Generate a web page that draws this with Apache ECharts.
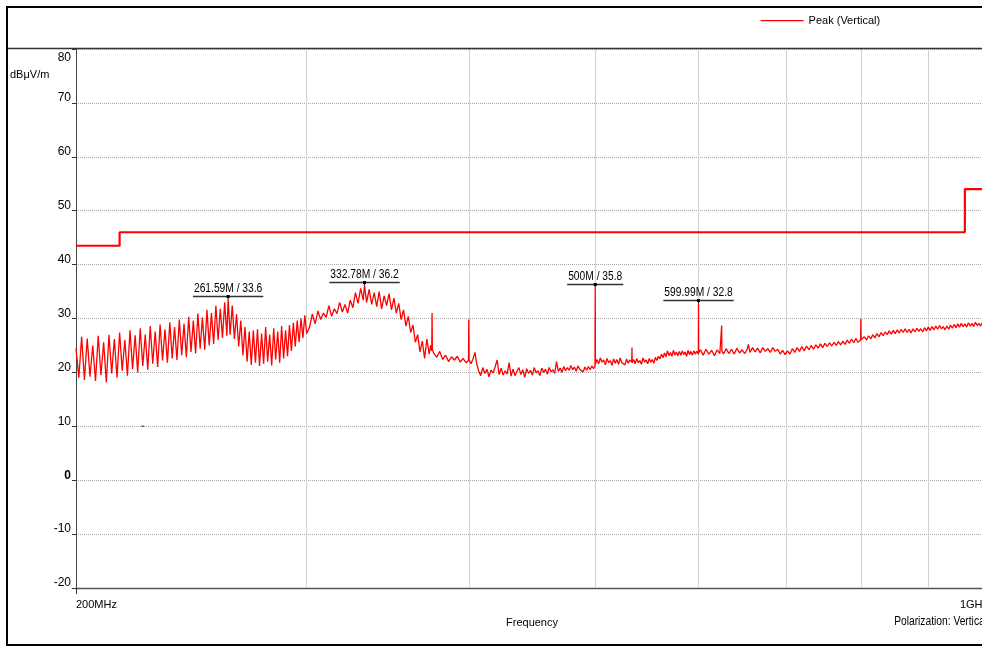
<!DOCTYPE html>
<html><head><meta charset="utf-8">
<script src="https://cdn.jsdelivr.net/npm/echarts@6/dist/echarts.min.js"></script>
<style>html,body{margin:0;padding:0;overflow:hidden;background:#fff;width:982px;height:646px}#c{width:1000px;height:646px}</style>
</head><body><div id="c"></div><script>
// ---- data (frequency in MHz, level in dBµV/m) ----
const traceA = [
[200,24.5],[201,19.0],[202,26.6],[203,18.6],[204,26.3],[205,19.2],[206,25.0],[207,18.4],[208,26.8],[209,19.5],
[210,25.6],[211,18.2],[212,27.0],[213,19.8],[214,26.2],[215,19.0],[216,27.4],[217,20.3],[218,26.0],[219,19.4],
[220,27.8],[221,20.6],[222,26.9],[223,20.0],[224,28.2],[225,21.2],[226,27.0],[227,20.5],[228,28.6],[229,21.6],
[230,27.6],[231,21.0],[232,28.9],[233,22.2],[234,28.0],[235,21.8],[236,29.3],[237,22.6],[238,28.4],[239,22.3],
[240,29.8],[241,23.2],[242,29.0],[243,22.8],[244,30.3],[245,23.8],[246,29.6],[247,23.5],[248,30.9],[249,24.4],
[250,30.2],[251,24.2],[252,31.6],[253,25.0],[254,31.0],[255,25.3],[256,32.4],[257,26.0],[258,31.8],[259,26.4],
[260,33.0],[261,26.8],[261.59,33.6],[262.5,27.0],[263.5,32.4],[264.5,26.2],[265.5,30.8],[266.5,24.8],[267.5,29.6],[268.5,23.2],
[269.5,28.4],[270.5,22.0],[271.5,27.6],[272.5,21.4],[273.5,27.8],[274.5,21.8],[275.5,28.0],[276.5,21.2],[277.5,27.2],[278.5,21.6],
[279.5,28.4],[280.5,22.0],[281.5,27.0],[282.5,21.3],[283.5,28.2],[284.5,22.4],[285.5,27.6],[286.5,21.8],[287.5,28.6],[288.5,22.6],
[289.5,27.8],[290.5,23.0],[291.5,28.8],[292.5,24.0],[293.5,29.2],[294.5,24.8],[295.5,29.6],[296.5,25.6],[297.5,30.0],[298.5,26.4],
[299.5,30.6],[300.5,27.2]
];
const traceB = [
[302.0,28.4],[303.5,30.8],[305.0,29.0],[306.5,31.4],[308.0,29.8],[309.5,31.0],[311.0,30.2],[312.5,32.4],[314.0,30.4],[315.5,31.8],
[317.0,30.9],[318.5,33.0],[320.0,31.2],[321.5,32.6],[323.0,31.0],[324.5,33.4],[326.0,32.0],[327.5,34.8],[329.0,32.8],[330.5,35.6],
[332.0,33.4],[332.78,36.2],[334.0,33.0],[335.5,35.4],[337.0,32.6],[338.5,34.8],[340.0,32.2],[341.5,35.0],[343.0,31.8],[344.5,34.2],
[346.0,32.4],[347.5,34.6],[349.0,31.6],[350.5,33.8],[352.0,31.0],[353.5,32.8],[355.0,29.8],[356.5,31.6],[358.0,28.6],[359.5,30.4],
[361.0,27.4],[362.5,28.8],[364.0,25.6],[365.5,27.0],[367.0,23.8],[368.5,25.8],[370.0,22.6],[371.5,26.2],[373.0,23.4],[374.0,25.0],
[374.7,24.0],[374.9,31.0],[375.1,24.2]
];
const traceC = [
[376,23.6],[378,22.8],[380,23.9],[382,22.4],[384,23.2],[386,22.0],[388,22.9],[390,22.3],[392,23.0],[394,21.9],
[396,22.6],[398,21.8],[399.8,22.2],[400,29.8],[400.2,22.4],[401.5,21.6],[403,22.5],[404.4,23.7],[405.5,21.8],[407,20.3],
[408.5,19.4],[410,20.9],[411.5,19.8],[413,20.6],[414.5,19.2],[416,20.4],[417.5,19.9],[419,21.0],[420.5,22.3],[422,19.6],
[423.5,20.8],[425,19.5],[426.5,20.3],[428,19.7],[429.5,21.8],[431,19.3],[432.5,20.6],[434,19.4],[435.5,20.2],[437,20.9],
[438.5,19.6],[440,20.5],[441.5,19.1],[443,20.7],[444.5,19.8],[446,20.4],[447.5,19.5],[449,20.9],[450.5,19.9],[452,20.3],
[453.5,19.4],[455,20.8],[456.5,20.0],[458,20.6],[459.5,19.7],[461,20.9],[462.5,20.1],[464,20.5],[465.5,19.8],[467,22.0],
[468.5,20.2],[470,20.8],[471.5,20.0],[473,21.1],[474.5,20.3],[476,20.9],[477.5,20.4],[479,21.3],[480.5,20.5],[482,21.0],
[483.5,20.2],[485,21.2],[486.5,20.6],[488,20.9],[489.5,20.1],[491,21.0],[492.5,20.4],[494,21.1],[495.5,20.5],[497,21.2],
[498.5,20.7],[499.8,21.1],[500,35.8],[500.2,21.6]
];
const traceD = [
[501.5,22.4],[503,21.6],[504.5,22.7],[506,21.9],[507.5,22.3],[509,21.4],[510.5,22.6],[512,21.8],[513.5,22.2],[515,21.3],
[516.5,22.5],[518,21.7],[519.5,22.4],[521,21.5],[522.5,22.7],[524,21.8],[525.5,22.1],[527,21.4],[528.5,22.5],[530,21.7],
[531.5,22.3],[533.3,21.9],[533.5,24.6],[533.7,21.8],[535,22.4],[536.5,21.6],[538,22.6],[539.5,21.8],[541,22.2],[542.5,21.5],
[544,22.7],[545.5,21.9],[547,22.3],[548.5,21.6],[550,22.6],[551.5,21.9],[553,22.4],[554.5,21.7],[556,22.8],[557.5,22.2],
[559,23.0],[560.5,22.5],[562,23.4],[563.5,22.7],[565,23.6],[566.5,22.9],[568,24.0],[569.5,23.1],[571,23.7],[572.5,23.0],
[574,24.1],[575.5,23.2],[577,23.8],[578.5,23.1],[580,23.9],[581.5,23.2],[583,24.0],[584.5,23.3],[586,23.8],[587.5,23.0],
[589,24.1],[590.5,23.3],[592,23.9],[593.5,23.2],[595,24.0],[596.5,23.4],[598,23.9],[599.8,23.4],[599.99,32.8],[600.2,23.6]
];
const traceE = [
[602,24.2],[605,23.2],[608,24.3],[611,23.4],[614,24.1],[617,23.1],[620,24.2],[623,23.5],[624.8,23.8],[625,28.7],
[625.2,24.0],[627,23.4],[630,24.4],[633,23.5],[636,24.3],[639,23.4],[642,24.5],[645,23.6],[648,24.2],[651,23.5],
[654,24.4],[655.2,25.2],[657,23.7],[660,24.6],[663,23.8],[666,24.5],[669,23.6],[672,24.6],[675,23.9],[678,24.4],
[681,23.7],[684,24.6],[687,23.9],[690,24.3],[693,23.4],[696,24.1],[699,23.3],[702,24.0],[705,23.4],[708,24.4],
[711,23.7],[714,24.6],[717,23.9],[720,24.8],[723,24.0],[726,24.9],[729,24.2],[732,25.0],[735,24.3],[738,25.1],
[741,24.5],[744,25.3],[747,24.6],[750,25.4],[753,24.8],[756,25.5],[759,24.9],[762,25.6],[765,25.0],[768,25.7],
[771,25.1],[774,25.8],[777,25.2],[780,26.0],[783,25.4],[786,26.2],[789,25.5],[792,26.3],[795,25.6],[798.7,26.0],
[799,29.9],[799.3,26.1],[801,25.8],[804,26.6],[807,26.0],[810,26.8],[813,26.2],[816,27.0],[819,26.4],[822,27.2],
[825,26.6],[828,27.4],[831,26.8],[834,27.5],[837,27.0],[840,27.7],[843,27.1],[846,27.8],[849,27.2],[852,27.9],
[855,27.3],[858,28.0],[861,27.4],[864,28.1],[867,27.4],[870,28.0],[873,27.3],[876,28.1],[879,27.5],[882,28.2],
[885,27.6],[888,28.1],[891,27.5],[894,28.3],[897,27.7],[900,28.4],[903,27.8],[906,28.5],[909,27.9],[912,28.6],
[915,28.0],[918,28.7],[921,28.1],[924,28.5],[927,27.9],[930,28.6],[933,28.0],[936,28.8],[939,28.2],[942,28.9],
[945,28.3],[948,29.0],[951,28.4],[954,29.1],[957,28.5],[960,29.0],[963,28.4],[966,29.2],[969,28.6],[972,29.1],
[975,28.5],[978,29.3],[981,28.7],[984,29.1],[987,28.6],[990,29.2],[993,28.7],[996,29.1],[1000,28.8]
];
const limitFreq = [200, 216, 216, 960, 960, 1000];
const limitDb   = [43.5, 43.5, 46, 46, 54, 54];
const markerFreq   = [261.59, 332.78, 500, 599.99];
const markerDb     = [33.6, 36.2, 35.8, 32.8];
const markerLabels = ['261.59M / 33.6', '332.78M / 36.2', '500M / 35.8', '599.99M / 32.8'];
const gridFreq = [300, 400, 500, 600, 700, 800, 900];
const xLabelValues = [200, 1000];
const xLabelTexts  = ['200MHz', '1GHz'];
const strayMarks = [[225, 10]];
const seriesName = 'Peak (Vertical)';

// ---- rendering ----
const SANS = "'Liberation Sans',Arial,sans-serif";
const NARROW_SCALE = 0.82;
const mctx = document.createElement('canvas').getContext('2d');
function textW(t){ mctx.font = '12.5px ' + SANS; return mctx.measureText(t).width * NARROW_SCALE; }

function renderMarker(params, api){
  const i = api.value(2);
  const p = api.coord([api.value(0), api.value(1)]);
  const txt = markerLabels[i];
  const w = textW(txt) + 2;
  const uy = Math.round(p[1]) - 2.5;
  return {type:'group', children:[
    {type:'text', x:p[0], y:uy-1, scaleX:NARROW_SCALE,
     style:{text:txt, x:0, y:0, textAlign:'center', textVerticalAlign:'bottom', font:'12.5px ' + SANS, fill:'#000'}},
    {type:'line', shape:{x1:p[0]-w/2, y1:uy, x2:p[0]+w/2, y2:uy}, style:{stroke:'#333', lineWidth:1.5}},
    {type:'line', shape:{x1:p[0], y1:uy, x2:p[0], y2:p[1]}, style:{stroke:'#000', lineWidth:1}},
    {type:'rect', shape:{x:p[0]-1.5, y:uy-1.5, width:3, height:3}, style:{fill:'#000'}}
  ]};
}

const chart = echarts.init(document.getElementById('c'), null, {renderer:'canvas'});
chart.setOption({
  animation:false,
  backgroundColor:'#fff',
  title:{text:'dBμV/m', left:10, top:69, padding:0, textStyle:{fontFamily:SANS, fontSize:11, fontWeight:'normal', color:'#000'}},
  legend:{data:[seriesName], left:760, top:15, padding:0, itemWidth:43, itemHeight:14,
          selectedMode:false, lineStyle:{color:'#ff0000', width:1.2}, itemStyle:{opacity:0},
          textStyle:{fontFamily:SANS, fontSize:11, color:'#000'}},
  grid:{left:76, top:49, width:912, height:539},
  xAxis:{type:'log', logBase:10, min:200, max:1000,
    name:'Frequency', nameLocation:'middle', nameGap:29, nameTextStyle:{fontFamily:SANS, fontSize:11, color:'#000'},
    axisLine:{show:true, onZero:false, lineStyle:{color:'#555', width:1.3}},
    axisTick:{show:true, customValues:[200], length:6, lineStyle:{color:'#333'}},
    axisLabel:{show:true, customValues:xLabelValues, formatter:v=>xLabelTexts[xLabelValues.indexOf(Math.round(v))] || '',
      alignMinLabel:'left', alignMaxLabel:'right', fontFamily:SANS, fontSize:11, color:'#000', margin:11},
    splitLine:{show:false}, minorTick:{show:false}, minorSplitLine:{show:false}},
  yAxis:{type:'value', min:-20, max:80, interval:10,
    axisLine:{show:true, lineStyle:{color:'#444', width:1}},
    axisTick:{show:true, length:4, lineStyle:{color:'#333'}},
    axisLabel:{fontFamily:SANS, fontSize:12, color:'#000', margin:5,
      formatter:v=> v===0 ? '{z|0}' : (v===80 ? '{t|80}' : '{n|'+v+'}'),
      rich:{n:{fontFamily:SANS, fontSize:12, color:'#000', padding:[0,0,10,0]},
            z:{fontFamily:SANS, fontSize:12, color:'#000', fontWeight:'bold', padding:[0,0,10,0]},
            t:{fontFamily:SANS, fontSize:12, color:'#000', padding:[18,0,0,0]}}},
    splitLine:{show:true, lineStyle:{color:'#aaa', type:'dotted', width:1}}},
  graphic:[
    {type:'rect', silent:true, z:100, shape:{x:7, y:7, width:1000, height:638}, style:{fill:null, stroke:'#000', lineWidth:2}},
    {type:'line', silent:true, z:100, shape:{x1:8, y1:48.5, x2:1000, y2:48.5}, style:{stroke:'#333', lineWidth:1.3}},
    {type:'text', silent:true, z:100, x:987, y:622, scaleX:NARROW_SCALE,
     style:{text:'Polarization: Vertical', x:0, y:0, textAlign:'right', textVerticalAlign:'middle', font:'12.5px ' + SANS, fill:'#000'}}
  ],
  series:[
    {type:'line', name:'grid', data:[], z:1, silent:true,
     markLine:{z:1, silent:true, symbol:'none', label:{show:false}, lineStyle:{color:'#d0d0d0', type:'solid', width:1},
       data:gridFreq.map(f=>({xAxis:f}))}},
    {type:'line', name:'Limit', data:limitFreq.map((f,i)=>[f, limitDb[i]]), symbol:'none', z:2,
     color:'#ff0000', lineStyle:{color:'#ff0000', width:2.2}},
    {type:'line', name:seriesName, data:[].concat(traceA, traceB, traceC, traceD, traceE), symbol:'none', showSymbol:false, z:3,
     color:'#ff0000', itemStyle:{color:'#ff0000'}, lineStyle:{color:'#ff0000', width:1.3}},
    {type:'custom', name:'markers', data:markerFreq.map((f,i)=>[f, markerDb[i], i]), renderItem:renderMarker, z:6, clip:false},
    {type:'scatter', name:'stray', data:strayMarks, symbol:'rect', symbolSize:[3,1.5], itemStyle:{color:'#444'}, z:4, silent:true}
  ]
});
</script></body></html>
